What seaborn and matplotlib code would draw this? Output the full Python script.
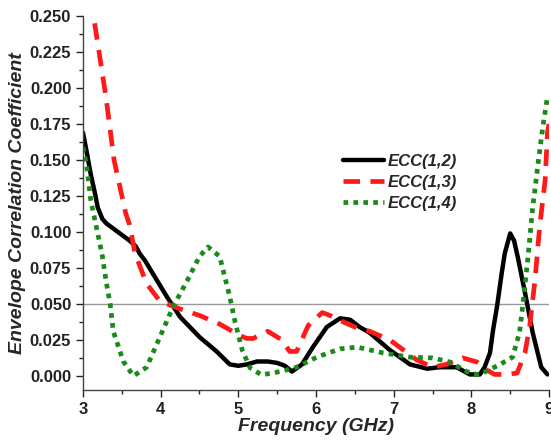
import matplotlib
matplotlib.use("Agg")
import matplotlib.pyplot as plt
import seaborn as sns
from matplotlib.ticker import MultipleLocator

sns.set_theme(style="ticks")
plt.rcParams['font.family'] = ['Liberation Sans', 'DejaVu Sans']

f12 = [3.0, 3.05, 3.1, 3.15, 3.19, 3.25, 3.3, 3.4, 3.5, 3.6, 3.68, 3.73, 3.8, 3.9, 4.08, 4.25, 4.5, 4.72,
       4.89, 5.0, 5.11, 5.24, 5.38, 5.5, 5.6, 5.69, 5.82, 5.96, 6.14, 6.31, 6.44, 6.56, 6.69, 6.95, 7.21,
       7.43, 7.59, 7.81, 7.98, 8.11, 8.17, 8.24, 8.28, 8.33, 8.39, 8.43, 8.5, 8.55, 8.6, 8.69, 8.79, 8.9, 8.98]
ecc12 = [0.169, 0.155, 0.140, 0.128, 0.117, 0.109, 0.106, 0.102, 0.098, 0.094, 0.090, 0.085, 0.080, 0.071, 0.055, 0.041, 0.027, 0.017,
         0.008, 0.007, 0.008, 0.010, 0.010, 0.009, 0.007, 0.003, 0.008, 0.020, 0.034, 0.040, 0.039, 0.034, 0.030, 0.018, 0.008,
         0.005, 0.006, 0.006, 0.001, 0.001, 0.006, 0.016, 0.032, 0.048, 0.071, 0.085, 0.099, 0.094, 0.082, 0.058, 0.030, 0.006, 0.001]

f13 = [3.15, 3.25, 3.3, 3.4, 3.55, 3.6, 3.67, 3.82, 3.99, 4.25, 4.5, 4.76, 5.02, 5.11, 5.19, 5.38, 5.56,
       5.66, 5.75, 5.9, 6.08, 6.18, 6.35, 6.54, 6.69, 6.95, 7.3, 7.5, 7.68, 7.89, 8.07, 8.2, 8.3, 8.46,
       8.59, 8.69, 8.75, 8.82, 8.88, 8.95, 8.98, 9.0]
ecc13 = [0.245, 0.210, 0.192, 0.150, 0.113, 0.105, 0.085, 0.064, 0.052, 0.0465, 0.042, 0.036, 0.028, 0.026, 0.026, 0.031, 0.025,
         0.017, 0.017, 0.035, 0.044, 0.042, 0.0375, 0.033, 0.031, 0.025, 0.011, 0.006, 0.008, 0.0125, 0.0097, 0.004, 0.001, 0.001,
         0.002, 0.016, 0.034, 0.067, 0.104, 0.136, 0.169, 0.175]

f14 = [3.0, 3.05, 3.1, 3.19, 3.25, 3.3, 3.35, 3.39, 3.52, 3.65, 3.82, 3.99, 4.16, 4.34, 4.5, 4.61, 4.76, 4.89,
       4.96, 5.05, 5.15, 5.3, 5.54, 5.75, 6.01, 6.31, 6.53, 6.86, 7.21, 7.5, 7.72, 7.94, 8.07, 8.11, 8.37, 8.53,
       8.62, 8.66, 8.73, 8.79, 8.86, 8.92, 8.98]
ecc14 = [0.159, 0.145, 0.122, 0.099, 0.083, 0.065, 0.050, 0.031, 0.010, 0.000, 0.006, 0.027, 0.048, 0.066, 0.083, 0.0896, 0.083, 0.055,
         0.037, 0.018, 0.0056, 0.0007, 0.003, 0.006, 0.013, 0.0188, 0.020, 0.016, 0.013, 0.0125, 0.0097, 0.003, 0.001, 0.001, 0.008, 0.013,
         0.030, 0.048, 0.083, 0.117, 0.148, 0.173, 0.194]

labels = ["ECC(1,2)", "ECC(1,3)", "ECC(1,4)"]

fig = plt.figure(figsize=(5.51, 4.48), dpi=100)
ax = fig.add_axes([0.1506, 0.1295, 0.8458, 0.8345])

ax.axhline(0.05, color="#999999", lw=1.0, zorder=1)

sns.lineplot(x=f12, y=ecc12, ax=ax, color="black", lw=3.2, label=labels[0], sort=False)
sns.lineplot(x=f13, y=ecc13, ax=ax, color="#ff1a1a", lw=3.4, label=labels[1], sort=False)
sns.lineplot(x=f14, y=ecc14, ax=ax, color="#1a8a1a", lw=3.4, label=labels[2], sort=False)
ax.lines[2].set_dashes([3.5, 2.2])
ax.lines[3].set_linestyle((0, (1, 1.1)))

ax.set_xlim(3, 9)
ax.set_ylim(-0.0098, 0.25)
ax.xaxis.set_major_locator(MultipleLocator(1))
ax.xaxis.set_minor_locator(MultipleLocator(0.5))
ax.yaxis.set_minor_locator(MultipleLocator(0.0125))
ax.set_yticks([0, 0.025, 0.05, 0.075, 0.1, 0.125, 0.15, 0.175, 0.2, 0.225, 0.25])
ax.set_yticklabels(["0.000", "0.025", "0.050", "0.075", "0.100", "0.125", "0.150", "0.175", "0.200", "0.225", "0.250"])
ax.tick_params(axis="both", which="major", direction="out", length=5, width=1, labelsize=12, colors="#222222")
ax.tick_params(axis="both", which="minor", direction="out", length=3, width=1)
for lab in ax.get_xticklabels() + ax.get_yticklabels():
    lab.set_fontweight("bold")
sns.despine(ax=ax)
for s in ["left", "bottom"]:
    ax.spines[s].set_color("#444444")
    ax.spines[s].set_linewidth(1.0)

ax.set_xlabel("Frequency (GHz)", fontsize=14, fontweight="bold", fontstyle="italic", labelpad=1)
ax.set_ylabel("Envelope Correlation Coefficient", fontsize=14, fontweight="bold", fontstyle="italic", labelpad=3)

leg = ax.legend(loc="upper left", bbox_to_anchor=(0.622, 0.657), bbox_transform=fig.transFigure, frameon=False,
                prop={"weight": "bold", "style": "italic", "size": 12},
                handlelength=2.5, handletextpad=0.2, labelspacing=0.38, borderaxespad=0, borderpad=0)

fig.savefig("out.png", dpi=100)
